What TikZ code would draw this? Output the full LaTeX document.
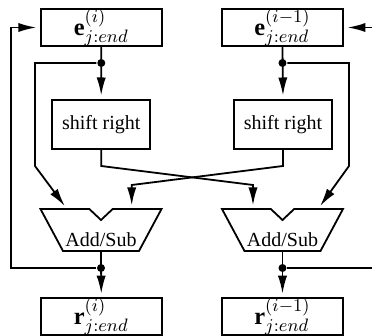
\documentclass[tikz,border=0pt]{standalone}
\usepackage{fontspec}
\setmainfont{Liberation Serif}
\usetikzlibrary{arrows.meta}
\newcommand{\reglabel}[1]{\fontsize{12.2}{14}\selectfont$#1$}
\begin{document}
\begin{tikzpicture}[x=0.5pt,y=-0.5pt,line width=0.9pt,
  reg/.style={draw,minimum width=60.5pt,minimum height=18.5pt,inner sep=0pt},
  shifter/.style={draw,minimum width=48.8pt,minimum height=24.5pt,inner sep=0pt},
  arr/.style={-{Latex[length=9pt,width=4.6pt]},shorten >=1.8pt},
  junction/.style={circle,fill,inner sep=0pt,minimum size=4pt},
  adder/.pic={\draw (-60.5,-21) -- (-11.7,-21) -- (0,-10) -- (11.7,-21) -- (60.5,-21)
                 -- (38,21) -- (-38,21) -- cycle;}]
\useasboundingbox (0,0) rectangle (372,336);

% registers and shifters
\node[reg] (eL) at (101.3,27.5) {\reglabel{\mathbf{e}^{(i)}_{j:end}}};
\node[reg] (eR) at (282.5,27.5) {\reglabel{\mathbf{e}^{(i-1)}_{j:end}}};
\node[shifter] (sL) at (101.2,124.5) {shift right};
\node[shifter] (sR) at (283,124.5) {shift right};
\node[reg] (rL) at (101.3,316.8) {\reglabel{\mathbf{r}^{(i)}_{j:end}}};
\node[reg] (rR) at (282.5,316.8) {\reglabel{\mathbf{r}^{(i-1)}_{j:end}}};

% adders
\pic at (101,230) {adder};
\pic at (282.5,230) {adder};
\node (aL) at (101,240) {Add/Sub};
\node (aR) at (282.5,240) {Add/Sub};
\coordinate (aLout) at (101,251);
\coordinate (aRout) at (282.5,251);
\coordinate (aLin1) at (67,209);
\coordinate (aLin2) at (131.7,209);
\coordinate (aRin1) at (253,209);
\coordinate (aRin2) at (318,209);

% junctions
\node[junction] (jL) at (101.3,63) {};
\node[junction] (jR) at (282.5,63) {};
\node[junction] (oL) at (101,268) {};
\node[junction] (oR) at (282.5,268) {};

% bends
\coordinate (bL) at (35,166);
\coordinate (bR) at (349,166);
\coordinate (cL1) at (101.2,166);
\coordinate (cL2) at (253,185);
\coordinate (cR1) at (283,166);
\coordinate (cR2) at (131.7,185);
\coordinate (fbL) at (11,268);
\coordinate (fbR) at (373,268);

% operand paths
\draw[arr] (eL.south) -- (sL.north);
\draw[arr] (eR.south) -- (sR.north);
\draw[arr] (jL) -| (bL) -- (aLin1);
\draw[arr] (jR) -| (bR) -- (aRin2);
\draw[arr] (sL.south) -- (cL1) -- (cL2) -- (aRin1);
\draw[arr] (sR.south) -- (cR1) -- (cR2) -- (aLin2);

% results and feedback
\draw[arr] (aLout) -- (rL.north);
\draw[arr] (aRout) -- (rR.north);
\draw[arr] (oL) -- (fbL) |- (eL.west);
\draw[arr] (oR) -- (fbR) |- (eR.east);
\end{tikzpicture}
\end{document}
